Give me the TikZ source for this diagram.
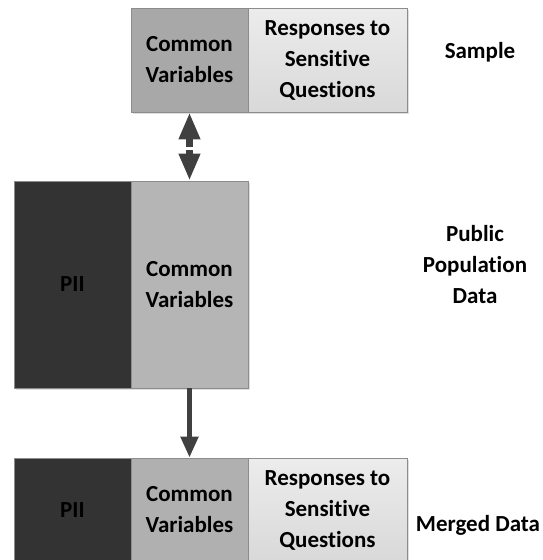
\documentclass[tikz,border=0pt]{standalone}
\usepackage{fontspec}
\setmainfont[Ligatures={NoCommon}]{Carlito}
\usetikzlibrary{arrows.meta,shadows}
\definecolor{piic}{HTML}{333333}
\definecolor{cvtop}{HTML}{A8A8A8}
\definecolor{cvmid}{HTML}{B5B5B5}
\definecolor{cvbot}{HTML}{B0B0B0}
\definecolor{rsc}{HTML}{E4E4E4}
\definecolor{edgec}{HTML}{8C8C8C}
\definecolor{arrc}{HTML}{404040}
\tikzset{
  cell/.style={draw=edgec, line width=0.8pt, inner sep=0pt, align=center,
    font=\fontsize{23}{31}\selectfont\bfseries,
    drop shadow={shadow xshift=2pt, shadow yshift=-2pt, opacity=0.25}},
  lbl/.style={align=center, font=\fontsize{23}{31}\selectfont\bfseries, inner sep=0pt},
  arrbig/.style={draw=arrc, line width=7pt, -{Triangle[length=27pt,width=20pt]}},
  arrsmall/.style={draw=arrc, line width=5pt, -{Triangle[length=21pt,width=17pt]}},
}
\begin{document}
\begin{tikzpicture}[x=1pt,y=-1pt]
\useasboundingbox (0,0) rectangle (543,560);
% top box (Sample)
\node[cell, fill=cvtop, minimum width=117, minimum height=104] (scv) at (189.5,60) {Common\\Variables};
\node[cell, top color=rsc!70!white, bottom color=rsc!95!black, minimum width=159, minimum height=104] (srs) at (327.5,60) {\raisebox{-2pt}{\begin{tabular}{@{}c@{}}Responses to\\Sensitive\\Questions\end{tabular}}};
% middle box (Public population data)
\node[cell, fill=piic, minimum width=117, minimum height=207] (ppii) at (72.5,284.5) {PII};
\node[cell, fill=cvmid, minimum width=117, minimum height=207] (pcv) at (189.5,284.5) {Common\\Variables};
% bottom box (Merged)
\node[cell, fill=piic, minimum width=117, minimum height=104] (mpii) at (72.5,510) {PII};
\node[cell, fill=cvbot, minimum width=117, minimum height=104] (mcv) at (189.5,510) {Common\\Variables};
\node[cell, top color=rsc!70!white, bottom color=rsc!95!black, minimum width=159, minimum height=104] (mrs) at (327.5,510) {\raisebox{-2pt}{\begin{tabular}{@{}c@{}}Responses to\\Sensitive\\Questions\end{tabular}}};
% labels
\node[lbl] (lsample) at (480,52) {Sample};
\node[lbl] (lpublic) at (475,265) {Public\\Population\\Data};
\node[lbl] (lmerged) at (478,525) {Merged Data};
% arrows
\coordinate (gap) at (189.5,148.5);
\draw[arrbig] ([yshift=1.5pt]gap) -- (scv.south);
\draw[arrbig] ([yshift=-1.5pt]gap) -- (pcv.north);
\draw[arrsmall] (pcv.south) -- (mcv.north);
\end{tikzpicture}
\end{document}
